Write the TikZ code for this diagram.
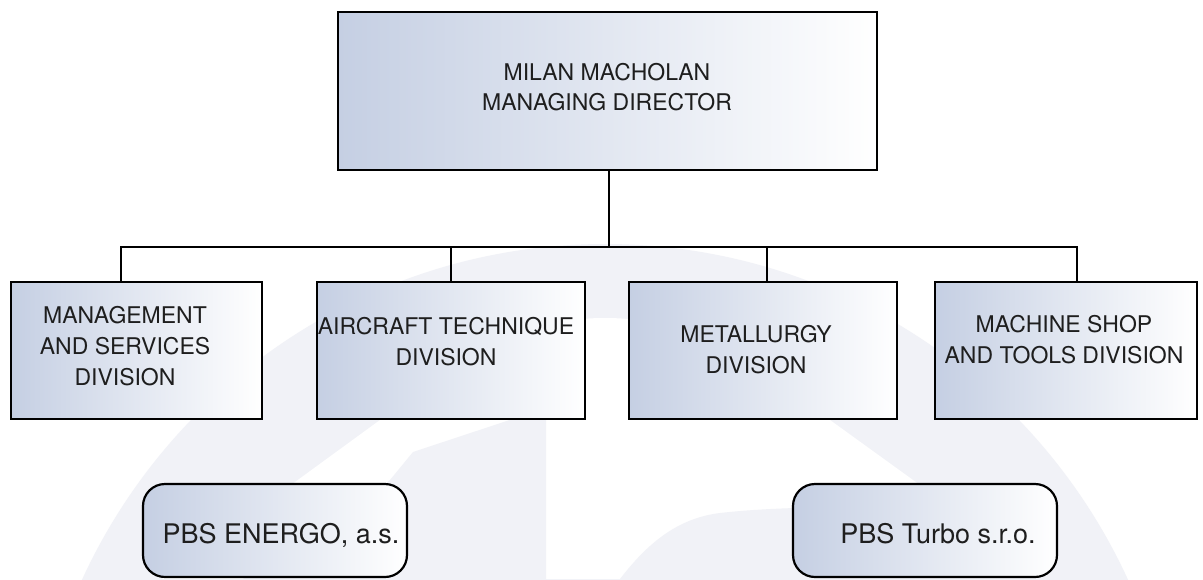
\documentclass[tikz,border=0pt]{standalone}
\usepackage{fontspec}
\setmainfont{TeX Gyre Heros}
\definecolor{gradblue}{HTML}{C5CFE3}
\definecolor{wm}{HTML}{F1F2F7}
\definecolor{txt}{HTML}{1E1E1E}
\begin{document}
\begin{tikzpicture}[x=1pt,y=-1pt,
  box/.style={draw=black, line width=2.2pt, left color=gradblue, right color=white, inner sep=0pt},
  rbox/.style={box, rounded corners=22pt},
  conn/.style={draw=black, line width=2pt},
  lbl/.style={font=\fontsize{23}{31}\selectfont, align=center, text=txt, inner sep=0pt},
  blbl/.style={font=\fontsize{27}{32}\selectfont, text=txt, inner sep=0pt, anchor=base},
]
\useasboundingbox (0,0) rectangle (1203,579);
\fill[white] (0,0) rectangle (1203,579);
% watermark
\begin{scope}
\clip (0,0) rectangle (1203,579);
\fill[wm] (605,819) circle[radius=575pt];
\fill[white] (162,579) -- (380,420) .. controls (480,347) and (530,318) .. (605,318)
   .. controls (680,318) and (730,347) .. (830,420) -- (1050,579) -- cycle;
\fill[wm] (243,579) .. controls (300,535) and (360,505) .. (390,480) -- (413,452) -- (546,408) -- (546,579) -- cycle;
\fill[wm] (620,579) .. controls (650,540) and (680,518) .. (720,513)
   .. controls (790,505) and (900,506) .. (957,512) -- (1050,579) -- cycle;
\end{scope}
% nodes
\node[box, minimum width=539pt, minimum height=158pt] (top) at (607.5,91) {};
\node[box, minimum width=251pt, minimum height=137pt] (d1) at (136.5,350.5) {};
\node[box, minimum width=268pt, minimum height=137pt] (d2) at (451,350.5) {};
\node[box, minimum width=268pt, minimum height=137pt] (d3) at (763,350.5) {};
\node[box, minimum width=262pt, minimum height=137pt] (d4) at (1066,350.5) {};
\node[rbox, minimum width=264pt, minimum height=93pt] (e1) at (275,530.5) {};
\node[rbox, minimum width=264pt, minimum height=93pt] (e2) at (925,530.5) {};
% connectors
\coordinate (bus) at (609,247);
\draw[conn] ([xshift=1.5pt]top.south) -- (bus);
\draw[conn] ([xshift=-15.5pt]d1.north) |- (bus);
\draw[conn] (d2.north) |- (bus);
\draw[conn] ([xshift=4pt]d3.north) |- (bus);
\draw[conn] ([xshift=11pt]d4.north) |- (bus);
% texts
\node[lbl, font=\fontsize{23}{30}\selectfont] (topt) at (607,87) {MILAN MACHOLAN\\MANAGING DIRECTOR};
\node[lbl] (t1) at (125,346) {MANAGEMENT\\AND SERVICES\\DIVISION};
\node[lbl] (t2) at (446,342) {AIRCRAFT TECHNIQUE\\DIVISION};
\node[lbl] (t3) at (756,350) {METALLURGY\\DIVISION};
\node[lbl] (t4) at (1064,340) {MACHINE SHOP\\AND TOOLS DIVISION};
\node[blbl] (b1) at (281,543) {PBS ENERGO, a.s.};
\node[blbl] (b2) at (938,543) {PBS Turbo s.r.o.};
\end{tikzpicture}
\end{document}
